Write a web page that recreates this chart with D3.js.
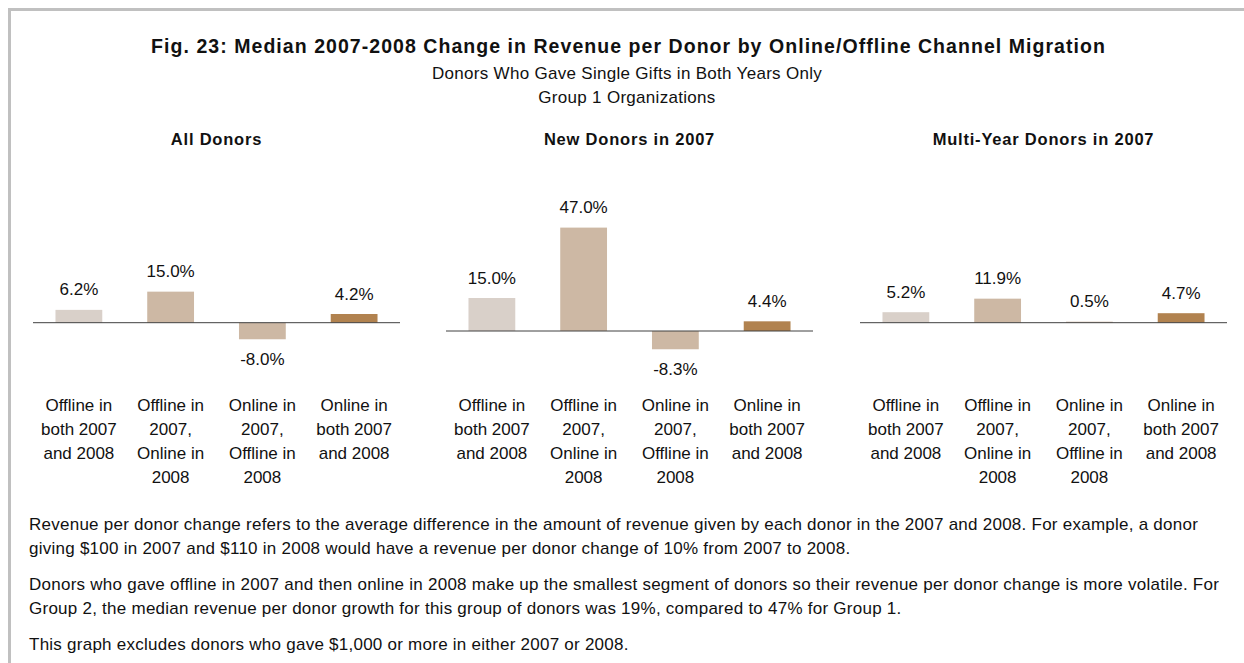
<!DOCTYPE html>
<html>
<head>
<meta charset="utf-8">
<script src="https://cdn.jsdelivr.net/npm/d3@7"></script>
<style>
  html, body { margin: 0; padding: 0; background: #fff; }
  svg { display: block; font-family: "Liberation Sans", Arial, sans-serif; }
</style>
</head>
<body>
<svg id="chart" width="1244" height="663"></svg>
<script>
// Channel-migration categories (one bar each, same order in every panel)
const categories = [
  ["Offline in", "both 2007", "and 2008"],
  ["Offline in", "2007,", "Online in", "2008"],
  ["Online in", "2007,", "Offline in", "2008"],
  ["Online in", "both 2007", "and 2008"]
];
const categoryKeys = ["offBoth", "offToOn", "onToOff", "onBoth"];

// Median revenue-per-donor change (%) per donor segment
const panelTitles = ["All Donors", "New Donors in 2007", "Multi-Year Donors in 2007"];
const allDonors = [6.2, 15.0, -8.0, 4.2];
const newDonors = [15.0, 47.0, -8.3, 4.4];
const multiYearDonors = [5.2, 11.9, 0.5, 4.7];

const barColors = ["#d9d0c9", "#cdb8a4", "#cdb8a4", "#b1824f"];

const titleText = "Fig. 23: Median 2007-2008 Change in Revenue per Donor by Online/Offline Channel Migration";
const subtitleLines = ["Donors Who Gave Single Gifts in Both Years Only", "Group 1 Organizations"];
const notes = [
  ["Revenue per donor change refers to the average difference in the amount of revenue given by each donor in the 2007 and 2008. For example, a donor",
   "giving $100 in 2007 and $110 in 2008 would have a revenue per donor change of 10% from 2007 to 2008."],
  ["Donors who gave offline in 2007 and then online in 2008 make up the smallest segment of donors so their revenue per donor change is more volatile. For",
   "Group 2, the median revenue per donor growth for this group of donors was 19%, compared to 47% for Group 1."],
  ["This graph excludes donors who gave $1,000 or more in either 2007 or 2008."]
];

const svg = d3.select("#chart");

// frame (top and left edges)
svg.append("path")
  .attr("d", "M9.5,663 V9.5 H1244")
  .attr("fill", "none")
  .attr("stroke", "#c0c0c0")
  .attr("stroke-width", 3);

// headings
svg.append("text")
  .attr("x", 628.5).attr("y", 53)
  .attr("text-anchor", "middle")
  .attr("font-size", 19.5).attr("font-weight", "bold")
  .attr("letter-spacing", 1.05)
  .attr("fill", "#111")
  .text(titleText);

svg.selectAll("text.sub")
  .data(subtitleLines)
  .join("text")
  .attr("class", "sub")
  .attr("x", 627).attr("y", (d, i) => 79 + i * 24)
  .attr("text-anchor", "middle")
  .attr("font-size", 17)
  .attr("letter-spacing", 0.3)
  .attr("fill", "#111")
  .text(d => d);

// panel geometry: horizontal extent, y-domain and its pixel range
const panels = [
  { title: panelTitles[0], values: allDonors,       x: [33, 400],   domain: [-20, 40], range: [364.1, 239.9] },
  { title: panelTitles[1], values: newDonors,       x: [446, 813],  domain: [-20, 60], range: [375, 199] },
  { title: panelTitles[2], values: multiYearDonors, x: [860, 1227], domain: [-20, 40], range: [363.1, 241.9] }
];

panels.forEach(p => {
  const g = svg.append("g");
  const x = d3.scaleBand()
    .domain(categoryKeys)
    .range(p.x)
    .paddingInner(0.49)
    .paddingOuter(0.245);
  const y = d3.scaleLinear().domain(p.domain).range(p.range);
  const y0 = y(0);

  g.append("text")
    .attr("x", (p.x[0] + p.x[1]) / 2).attr("y", 145)
    .attr("text-anchor", "middle")
    .attr("font-size", 16.5).attr("font-weight", "bold")
    .attr("letter-spacing", 0.8)
    .attr("fill", "#111")
    .text(p.title);

  const rows = categoryKeys.map((k, i) => ({ key: k, value: p.values[i], color: barColors[i], lines: categories[i] }));

  g.selectAll("rect")
    .data(rows)
    .join("rect")
    .attr("x", d => x(d.key))
    .attr("width", x.bandwidth())
    .attr("y", d => Math.min(y(d.value), y0))
    .attr("height", d => Math.abs(y(d.value) - y0))
    .attr("fill", d => d.color);

  // zero line
  g.append("line")
    .attr("x1", p.x[0]).attr("x2", p.x[1])
    .attr("y1", y0).attr("y2", y0)
    .attr("stroke", "#404040").attr("stroke-width", 1);

  // value labels
  g.selectAll("text.val")
    .data(rows)
    .join("text")
    .attr("class", "val")
    .attr("x", d => x(d.key) + x.bandwidth() / 2)
    .attr("y", d => d.value >= 0 ? y(d.value) - 14.5 : y(d.value) + 26)
    .attr("text-anchor", "middle")
    .attr("font-size", 17)
    .attr("fill", "#111")
    .text(d => d.value.toFixed(1) + "%");

  // category labels
  const cat = g.selectAll("text.cat")
    .data(rows)
    .join("text")
    .attr("class", "cat")
    .attr("text-anchor", "middle")
    .attr("font-size", 17)
    .attr("fill", "#111");
  cat.selectAll("tspan")
    .data(d => d.lines.map(l => ({ l, cx: x(d.key) + x.bandwidth() / 2 })))
    .join("tspan")
    .attr("x", d => d.cx)
    .attr("y", (d, i) => 411 + i * 24)
    .text(d => d.l);
});

// notes
const noteTop = [530, 590, 650];
notes.forEach((para, pi) => {
  para.forEach((line, li) => {
    svg.append("text")
      .attr("x", 29).attr("y", noteTop[pi] + li * 24)
      .attr("font-size", 17)
      .attr("letter-spacing", 0.25)
      .attr("fill", "#111")
      .text(line);
  });
});
</script>
</body>
</html>
